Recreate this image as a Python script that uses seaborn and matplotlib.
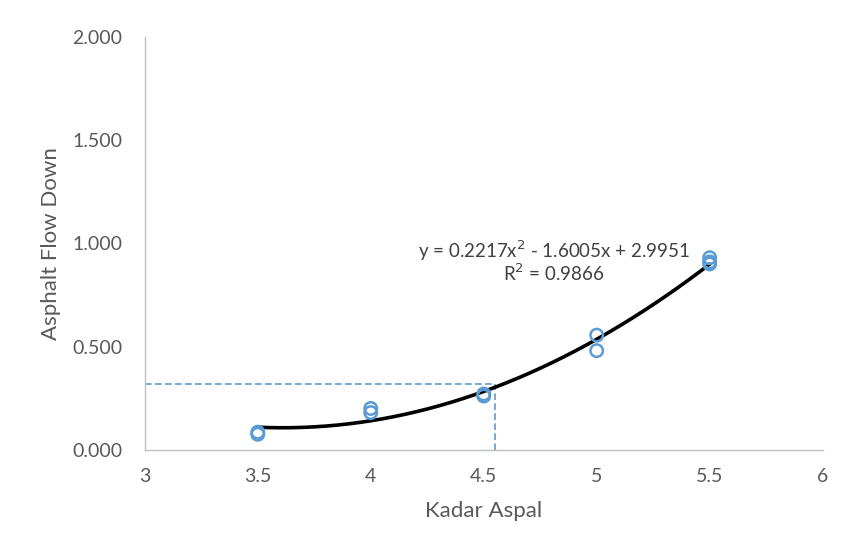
import numpy as np
import pandas as pd
import matplotlib
matplotlib.use("Agg")
import matplotlib.pyplot as plt
import seaborn as sns

# Data
kadar = [3.5, 3.5, 4.0, 4.0, 4.5, 4.5, 5.0, 5.0, 5.5, 5.5, 5.5]
flow = [0.075, 0.085, 0.200, 0.180, 0.260, 0.270, 0.555, 0.480, 0.930, 0.910, 0.900]
coef = [0.2217, -1.6005, 2.9951]
r2 = 0.9866
target_x = 4.55
target_y = 0.32
x_ticks = [3, 3.5, 4, 4.5, 5, 5.5, 6]
y_ticks = [0.0, 0.5, 1.0, 1.5, 2.0]

sns.set_style("white")
plt.rcParams["font.family"] = ["Lato", "DejaVu Sans"]

fig = plt.figure(figsize=(8.42, 5.58), dpi=100)
ax = fig.add_axes([0.172, 0.194, 0.805, 0.740])

df = pd.DataFrame({"Kadar Aspal": kadar, "Asphalt Flow Down": flow})

# trendline
xs = np.linspace(min(kadar), max(kadar), 200)
ys = np.polyval(coef, xs)
sns.lineplot(x=xs, y=ys, ax=ax, color="black", linewidth=2.6, zorder=2)

sns.scatterplot(data=df, x="Kadar Aspal", y="Asphalt Flow Down", ax=ax,
                marker="o", s=80, facecolors="none", edgecolor="#5B9BD5",
                linewidth=1.8, zorder=3)

# dashed guide lines
dash_col = "#5B9BD5"
ax.plot([3, target_x], [target_y, target_y], ls=(0, (4, 2)), color=dash_col, lw=1.2, zorder=1)
ax.plot([target_x, target_x], [0, target_y], ls=(0, (4, 2)), color=dash_col, lw=1.2, zorder=1)

ax.set_xlim(3, 6)
ax.set_ylim(0, 2.0)
ax.set_xticks(x_ticks)
ax.set_xticklabels([f"{t:g}" for t in x_ticks])
ax.set_yticks(y_ticks)
ax.set_yticklabels([f"{t:.3f}" for t in y_ticks])
ax.tick_params(axis="x", length=0, labelsize=14, colors="#595959", pad=13)
ax.tick_params(axis="y", length=0, labelsize=14, colors="#595959", pad=16)

for side in ["top", "right"]:
    ax.spines[side].set_visible(False)
for side in ["left", "bottom"]:
    ax.spines[side].set_color("#BFBFBF")
    ax.spines[side].set_linewidth(1.0)

ax.set_xlabel("Kadar Aspal", fontsize=16, color="#595959", labelpad=12)
ax.set_ylabel("Asphalt Flow Down", fontsize=16, color="#595959", labelpad=8)

eq = f"y = {coef[0]:.4f}x$^2$ - {abs(coef[1]):.4f}x + {coef[2]:.4f}"
ax.text(4.81, 0.965, eq, ha="center", va="center", fontsize=13.5, color="#404040")
ax.text(4.81, 0.855, f"R$^2$ = {r2:.4f}", ha="center", va="center", fontsize=13.5, color="#404040")

fig.savefig("out.png", dpi=100)
